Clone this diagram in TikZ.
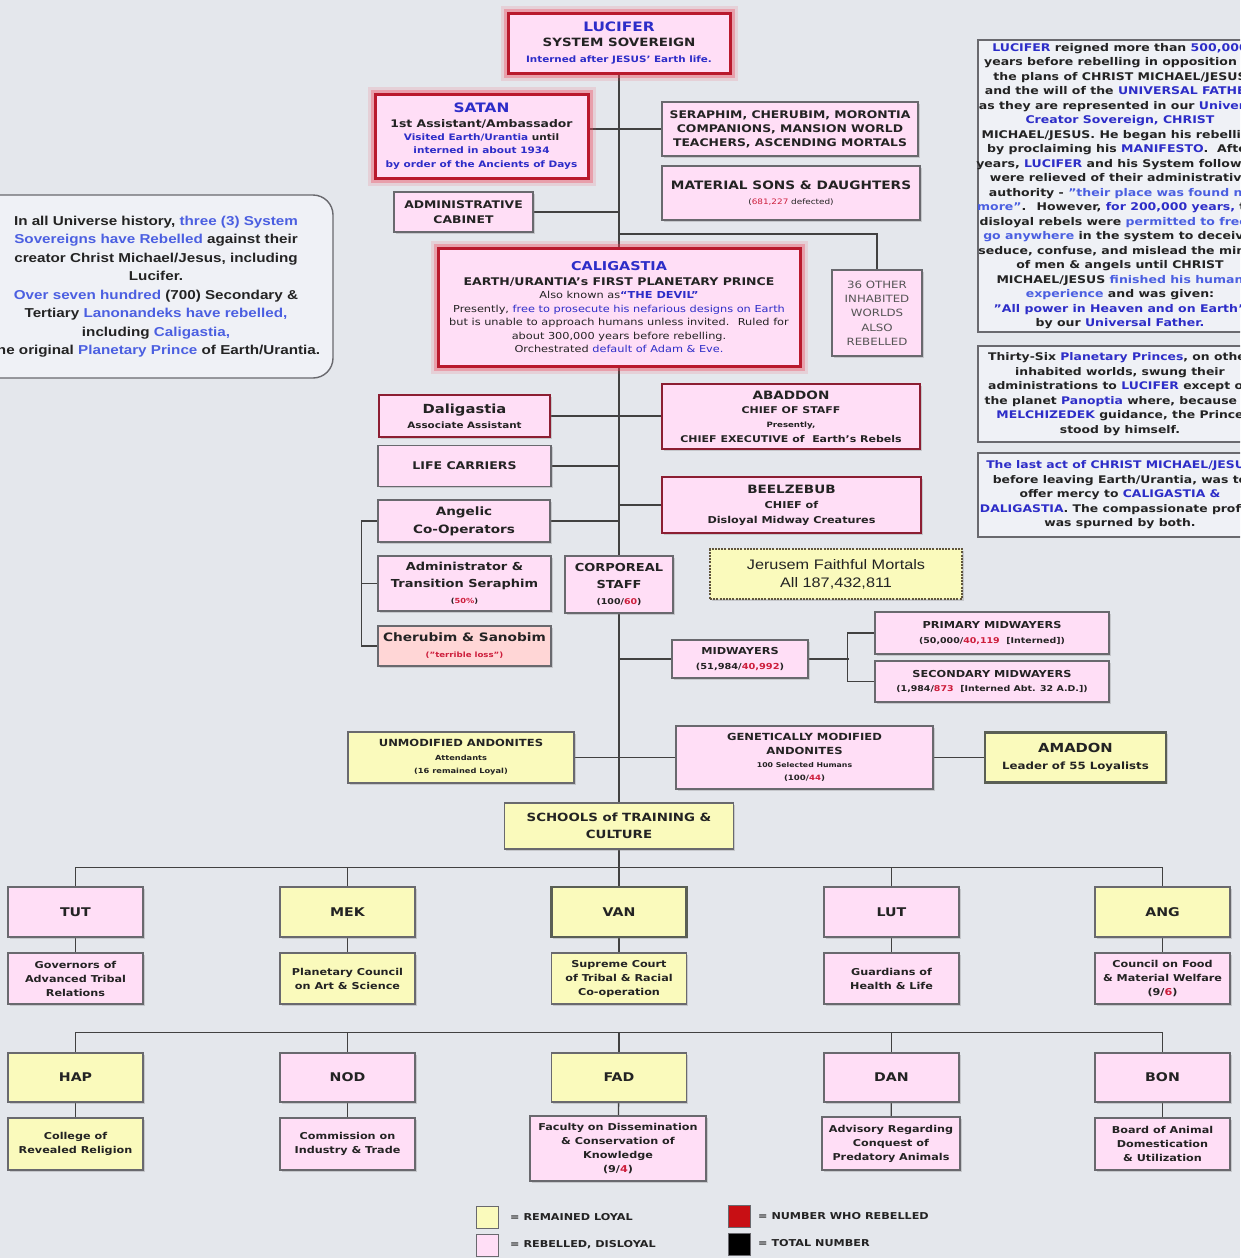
\documentclass[tikz,border=0pt]{standalone}
\usepackage{fontspec}
\setmainfont{DejaVu Sans}[FakeStretch=1.18]
\newfontfamily\arialf{Liberation Sans}[FakeStretch=1.18]
\usetikzlibrary{shadows,calc}
\pgfdeclarelayer{back}\pgfdeclarelayer{lines}
\pgfsetlayers{back,lines,main}
\definecolor{bgc}{RGB}{228,231,236}
\definecolor{pinkc}{RGB}{255,222,246}
\definecolor{yelc}{RGB}{250,250,188}
\definecolor{salc}{RGB}{255,214,214}
\definecolor{bordc}{RGB}{105,105,110}
\definecolor{linec}{RGB}{65,65,65}
\definecolor{txt}{RGB}{35,35,35}
\definecolor{bl}{RGB}{45,45,200}
\definecolor{lbl}{RGB}{75,95,225}
\definecolor{rd}{RGB}{205,30,60}
\definecolor{redc}{RGB}{185,25,45}
\definecolor{glowc}{RGB}{240,70,90}
\definecolor{dredc}{RGB}{140,30,50}
\definecolor{panelc}{RGB}{239,241,246}
\definecolor{greytxt}{RGB}{85,85,85}
\definecolor{dashc}{RGB}{95,85,60}
\definecolor{thickc}{RGB}{90,95,85}
\newcommand{\fsz}[2]{\fontsize{#1}{#2}\selectfont}
\newcommand{\blu}[1]{{\color{bl}#1}}
\newcommand{\lblu}[1]{{\color{lbl}#1}}
\newcommand{\rdd}[1]{{\color{rd}#1}}
\newcommand{\zw}[1]{\makebox[0pt]{#1}}
\tikzset{
  sz/.style 2 args={minimum width=#1pt, minimum height=#2pt},
  bx/.style={draw=bordc, line width=1.4pt, align=center, inner sep=0pt, text=txt,
     font=\bfseries, drop shadow={shadow xshift=1.5pt, shadow yshift=-1.5pt, opacity=0.3}},
  pk/.style={bx, fill=pinkc},
  yl/.style={bx, fill=yelc},
  rb/.style={pk, draw=redc, line width=3pt,
     preaction={draw=glowc, line width=15pt, opacity=0.14},
     preaction={draw=glowc, line width=9pt, opacity=0.35}},
  db/.style={pk, draw=dredc, line width=2pt},
  tk/.style={draw=thickc, line width=2.6pt},
  panel/.style={draw=bordc, line width=1.4pt, fill=panelc, align=center, inner sep=0pt, text=txt},
  conn/.style={draw=linec, line width=1.3pt},
  lg/.style={draw=bordc, line width=1pt, minimum width=22pt, minimum height=22pt, inner sep=0pt},
  lgt/.style={anchor=west, inner sep=0pt, font=\fsz{9.5}{11}\bfseries, text=txt}
}
\begin{document}
\begin{tikzpicture}[x=1pt,y=-1pt]
\useasboundingbox (0,0) rectangle (1240,1258);
\clip (0,0) rectangle (1240,1258);
\begin{pgfonlayer}{back}
\fill[bgc] (0,0) rectangle (1240,1258);
\end{pgfonlayer}

% ---------- side panels ----------
\node[panel, rounded corners=20pt, sz={354}{183}, font=\arialf\bfseries\fsz{12.9}{18.5}] (leftpanel) at (156,286.5) {%
\zw{In all Universe history, \lblu{three (3) System}}\\
\zw{\lblu{Sovereigns have Rebelled} against their}\\
\zw{creator Christ Michael/Jesus, including}\\
\zw{Lucifer.}\\
\zw{\lblu{Over seven hundred} (700) Secondary \&}\\
\zw{Tertiary \lblu{Lanonandeks have rebelled,}}\\
\zw{including \lblu{Caligastia,}}\\
\zw{the original \lblu{Planetary Prince} of Earth/Urantia.}};

\node[panel, sz={284}{292}, font=\bfseries\fsz{10.6}{14.5}] (rpanel1) at (1120,186) {%
\zw{\blu{LUCIFER} reigned more than \blu{500,000}}\\
\zw{years before rebelling in opposition to}\\
\zw{the plans of CHRIST MICHAEL/JESUS}\\
\zw{and the will of the \blu{UNIVERSAL FATHER}}\\
\zw{as they are represented in our \blu{Universe}}\\
\zw{\blu{Creator Sovereign, CHRIST}}\\
\zw{MICHAEL/JESUS. He began his rebellion}\\
\zw{by proclaiming his \blu{MANIFESTO}.~ After}\\
\zw{years, \blu{LUCIFER} and his System followers}\\
\zw{were relieved of their administrative}\\
\zw{authority - \lblu{"their place was found no}}\\
\zw{\lblu{more"}.~ However, \blu{for 200,000 years,} the}\\
\zw{disloyal rebels were \lblu{permitted to freely}}\\
\zw{\lblu{go anywhere} in the system to deceive,}\\
\zw{seduce, confuse, and mislead the minds}\\
\zw{of men \& angels until CHRIST}\\
\zw{MICHAEL/JESUS \lblu{finished his human}}\\
\zw{\lblu{experience} and was given:}\\
\zw{\blu{"All power in Heaven and on Earth"}}\\
\zw{by our \blu{Universal Father.}}};

\node[panel, sz={284}{96}, font=\bfseries\fsz{10.5}{14.5}] (rpanel2) at (1120,394) {%
\zw{Thirty-Six \blu{Planetary Princes}, on other}\\
\zw{inhabited worlds, swung their}\\
\zw{administrations to \blu{LUCIFER} except on}\\
\zw{the planet \blu{Panoptia} where, because of}\\
\zw{\blu{MELCHIZEDEK} guidance, the Prince}\\
\zw{stood by himself.}};

\node[panel, sz={284}{84}, font=\bfseries\fsz{10.5}{14.5}] (rpanel3) at (1120,495) {%
\zw{\blu{The last act of CHRIST MICHAEL/JESUS}}\\
\zw{before leaving Earth/Urantia, was to}\\
\zw{offer mercy to \blu{CALIGASTIA \&}}\\
\zw{\blu{DALIGASTIA}. The compassionate proffer}\\
\zw{was spurned by both.}};

% ---------- hierarchy ----------
\node[rb, sz={222}{60}, font=\bfseries\fsz{11.4}{15.5}] (lucifer) at (619,43) {%
{\fsz{13}{15}\color{bl}LUCIFER}\\SYSTEM SOVEREIGN\\{\fsz{8.8}{11}\color{bl}Interned after JESUS' Earth life.}};

\node[rb, sz={213}{84}, font=\bfseries\fsz{8.9}{13.2}] (satan) at (481.5,136) {%
{\fsz{13}{15}\color{bl}SATAN}\\[1.5pt]{\fsz{10.5}{12}1st Assistant/Ambassador}\\
{\color{bl}Visited Earth/Urantia} until\\{\color{bl}interned in about 1934}\\{\color{bl}by order of the Ancients of Days}};

\node[pk, sz={256}{54}, font=\bfseries\fsz{10.5}{14}] (seraph) at (790,129) {%
SERAPHIM, CHERUBIM, MORONTIA\\COMPANIONS, MANSION WORLD\\TEACHERS, ASCENDING MORTALS};

\node[pk, sz={258}{54}, font=\bfseries\fsz{11.6}{15}] (matsons) at (791,193) {%
MATERIAL SONS \& DAUGHTERS\\{\mdseries\fsz{7.5}{9}(\rdd{681,227} defected)}};

\node[pk, sz={139}{40}, font=\bfseries\fsz{10.5}{15}] (cabinet) at (463.5,212) {ADMINISTRATIVE\\CABINET};

\node[rb, sz={362}{118}, font=\mdseries\fsz{9.6}{13.4}] (caligastia) at (619,307) {%
{\bfseries\fsz{12.2}{14}\color{bl}CALIGASTIA}\\[1.5pt]
{\bfseries\fsz{10.6}{12}EARTH/URANTIA's FIRST PLANETARY PRINCE}\\
Also known as{\bfseries\color{bl}``THE DEVIL''}\\
Presently, {\color{bl}free to prosecute his nefarious designs on Earth}\\
but is unable to approach humans unless invited.~ Ruled for\\
about 300,000 years before rebelling.\\
Orchestrated {\color{bl}default of Adam \& Eve.}};

\node[pk, sz={90}{86}, font=\mdseries\fsz{10}{14.3}, text=greytxt] (other) at (877,313) {%
36 OTHER\\INHABITED\\WORLDS\\ALSO\\REBELLED};

\node[db, sz={171}{42}, font=\bfseries\fsz{8.8}{15}] (dalig) at (464.5,416) {%
{\fsz{12.5}{14}Daligastia}\\Associate Assistant};

\node[db, sz={258}{65}, font=\bfseries\fsz{9.3}{14.2}] (abaddon) at (791,416.5) {%
{\fsz{11.5}{13}ABADDON}\\CHIEF OF STAFF\\{\fsz{7.3}{9}Presently,}\\CHIEF EXECUTIVE of~ Earth's Rebels};

\node[pk, sz={173}{41}, font=\bfseries\fsz{10.6}{13}] (life) at (464.5,466) {LIFE CARRIERS};

\node[db, sz={259}{56}, font=\bfseries\fsz{9.5}{15}] (beel) at (791.5,505) {%
{\fsz{11.5}{13}BEELZEBUB}\\CHIEF of\\Disloyal Midway Creatures};

\node[pk, sz={172}{42}, font=\bfseries\fsz{11.5}{18}] (angelic) at (464,521) {Angelic\\Co-Operators};

\node[pk, sz={173}{55}, font=\bfseries\fsz{11}{16.5}] (adminser) at (464.5,583.5) {%
Administrator \&\\Transition Seraphim\\{\fsz{7}{9}(\rdd{50\%})}};

\node[pk, sz={108}{57}, font=\bfseries\fsz{11}{16.5}] (corporeal) at (619,584.5) {%
CORPOREAL\\STAFF\\{\fsz{8}{9}(100/\rdd{60})}};

\node[bx, fill=yelc, draw=dashc, line width=2pt, dash pattern=on 2pt off 1.2pt, sz={252}{50},
  font=\arialf\fsz{13.8}{18}] (jerusem) at (836,574) {Jerusem Faithful Mortals\\All 187,432,811};

\node[bx, fill=salc, sz={173}{40}, font=\bfseries\fsz{11.6}{16}] (cherub) at (464.5,646) {%
Cherubim \& Sanobim\\{\fsz{7.3}{9}\color{rd}("terrible loss")}};

\node[pk, sz={136}{38}, font=\bfseries\fsz{9.6}{15}] (midw) at (740,659) {%
MIDWAYERS\\{\fsz{8.3}{10}(51,984/\rdd{40,992})}};

\node[pk, sz={234}{42}, font=\bfseries\fsz{9.6}{14.5}] (primary) at (992,633) {%
PRIMARY MIDWAYERS\\{\fsz{8}{10}(50,000/\rdd{40,119}~ [Interned])}};

\node[pk, sz={234}{41}, font=\bfseries\fsz{9.6}{14.5}] (secondary) at (992,681.5) {%
SECONDARY MIDWAYERS\\{\fsz{8}{10}(1,984/\rdd{873}~ [Interned Abt. 32 A.D.])}};

\node[yl, sz={226}{51}, font=\bfseries\fsz{9.8}{13.5}] (unmod) at (461,757.5) {%
UNMODIFIED ANDONITES\\{\fsz{7}{9}Attendants}\\{\fsz{7}{9}(16 remained Loyal)}};

\node[pk, sz={257}{63}, font=\bfseries\fsz{9.8}{13.2}] (genetic) at (804.5,757.5) {%
GENETICALLY MODIFIED\\ANDONITES\\{\fsz{6.6}{9}100 Selected Humans}\\{\fsz{7.3}{9}(100/\rdd{44})}};

\node[yl, tk, sz={181}{50}, font=\bfseries\fsz{10}{17}] (amadon) at (1075.5,757.5) {%
{\fsz{12.5}{14}AMADON}\\Leader of 55 Loyalists};

\node[yl, sz={229}{46}, font=\bfseries\fsz{11.3}{17}] (schools) at (619,826) {SCHOOLS of TRAINING \&\\CULTURE};

% row 1
\node[pk, sz={135}{50}, font=\bfseries\fsz{12}{14}] (tut) at (75.5,912) {TUT};
\node[yl, sz={135}{50}, font=\bfseries\fsz{12}{14}] (mek) at (347.5,912) {MEK};
\node[yl, tk, sz={135}{50}, font=\bfseries\fsz{12}{14}] (van) at (619,912) {VAN};
\node[pk, sz={135}{50}, font=\bfseries\fsz{12}{14}] (lut) at (891.5,912) {LUT};
\node[yl, sz={135}{50}, font=\bfseries\fsz{12}{14}] (ang) at (1162.5,912) {ANG};

\node[pk, sz={135}{51}, font=\bfseries\fsz{9.5}{14}] (tutsub) at (75.5,978.5) {Governors of\\Advanced Tribal\\Relations};
\node[yl, sz={135}{51}, font=\bfseries\fsz{9.5}{14}] (meksub) at (347.5,978.5) {Planetary Council\\on Art \& Science};
\node[yl, sz={135}{51}, font=\bfseries\fsz{9.5}{14}] (vansub) at (619,978.5) {Supreme Court\\of Tribal \& Racial\\Co-operation};
\node[pk, sz={135}{51}, font=\bfseries\fsz{9.5}{14}] (lutsub) at (891.5,978.5) {Guardians of\\Health \& Life};
\node[pk, sz={135}{51}, font=\bfseries\fsz{9.5}{14}] (angsub) at (1162.5,978.5) {Council on Food\\\& Material Welfare\\(9/\rdd{6})};

% row 2
\node[yl, sz={135}{49}, font=\bfseries\fsz{12}{14}] (hap) at (75.5,1077.5) {HAP};
\node[pk, sz={135}{49}, font=\bfseries\fsz{12}{14}] (nod) at (347.5,1077.5) {NOD};
\node[yl, sz={135}{49}, font=\bfseries\fsz{12}{14}] (fad) at (619,1077.5) {FAD};
\node[pk, sz={135}{49}, font=\bfseries\fsz{12}{14}] (dan) at (891.5,1077.5) {DAN};
\node[pk, sz={135}{49}, font=\bfseries\fsz{12}{14}] (bon) at (1162.5,1077.5) {BON};

\node[yl, sz={135}{52}, font=\bfseries\fsz{9.5}{14}] (hapsub) at (75.5,1144) {College of\\Revealed Religion};
\node[pk, sz={135}{52}, font=\bfseries\fsz{9.5}{14}] (nodsub) at (347.5,1144) {Commission on\\Industry \& Trade};
\node[pk, sz={176}{65}, font=\bfseries\fsz{9.5}{14}] (fadsub) at (618,1148.5) {Faculty on Dissemination\\\& Conservation of\\Knowledge\\(9/\rdd{4})};
\node[pk, sz={138}{53}, font=\bfseries\fsz{9.5}{14}] (dansub) at (891,1143.5) {Advisory Regarding\\Conquest of\\Predatory Animals};
\node[pk, sz={135}{52}, font=\bfseries\fsz{9.5}{14}] (bonsub) at (1162.5,1144) {Board of Animal\\Domestication\\\& Utilization};

% legend
\node[lg, fill=yelc] (lgyel) at (487,1217) {};
\node[lg, fill=pinkc] (lgpink) at (487,1245) {};
\node[lg, fill={rgb,255:red,200;green,15;blue,20}] (lgred) at (739,1216) {};
\node[lg, fill=black] (lgblack) at (739,1244) {};
\node[lgt] (lgyelt) at (510,1217) {= REMAINED LOYAL};
\node[lgt] (lgpinkt) at (510,1245) {= REBELLED, DISLOYAL};
\node[lgt] (lgredt) at (758,1216) {= NUMBER WHO REBELLED};
\node[lgt] (lgblackt) at (758,1243) {= TOTAL NUMBER};

% ---------- connectors ----------
\begin{pgfonlayer}{lines}
\draw[conn] (lucifer) -- (schools);
\draw[conn] (satan.east |- seraph.west) -- (seraph.west);
\draw[conn] (cabinet.east) -- (cabinet.east -| lucifer.south);
\coordinate (j36) at (619,234);
\draw[conn] (j36) -| (other.north);
\draw[conn] (dalig.east) -- (dalig.east -| abaddon.west);
\draw[conn] (life.east) -- (life.east -| lucifer.south);
\draw[conn] (beel.west) -- (beel.west -| lucifer.south);
\draw[conn] (angelic.east) -- (angelic.east -| lucifer.south);
\draw[conn] (angelic.west) -- ++(-16,0) |- (cherub.west);
\draw[conn] (adminser.west) -- ++(-16,0);
\draw[conn] (midw.west) -- (midw.west -| lucifer.south);
\draw[conn] (midw.east) -- ++(40,0);
\draw[conn] (primary.west) -- ++(-27,0) |- (secondary.west);
\draw[conn] (unmod.east) -- (unmod.east -| genetic.west);
\draw[conn] (genetic.east) -- (genetic.east -| amadon.west);
\draw[conn] (schools.south) -- (van.north);
\draw[conn] (tut.north) -- ++(0,-19) -| (ang.north);
\draw[conn] (mek.north) -- ++(0,-19);
\draw[conn] (lut.north) -- ++(0,-19);
\draw[conn] (tut) -- (tutsub);
\draw[conn] (mek) -- (meksub);
\draw[conn] (van) -- (vansub);
\draw[conn] (lut) -- (lutsub);
\draw[conn] (ang) -- (angsub);
\draw[conn] (hap.north) -- ++(0,-20) -| (bon.north);
\draw[conn] (nod.north) -- ++(0,-20);
\draw[conn] (fad.north) -- ++(0,-20);
\draw[conn] (dan.north) -- ++(0,-20);
\draw[conn] (hap) -- (hapsub);
\draw[conn] (nod) -- (nodsub);
\draw[conn] (fad) -- (fadsub);
\draw[conn] (dan) -- (dansub);
\draw[conn] (bon) -- (bonsub);
\end{pgfonlayer}
\end{tikzpicture}
\end{document}
